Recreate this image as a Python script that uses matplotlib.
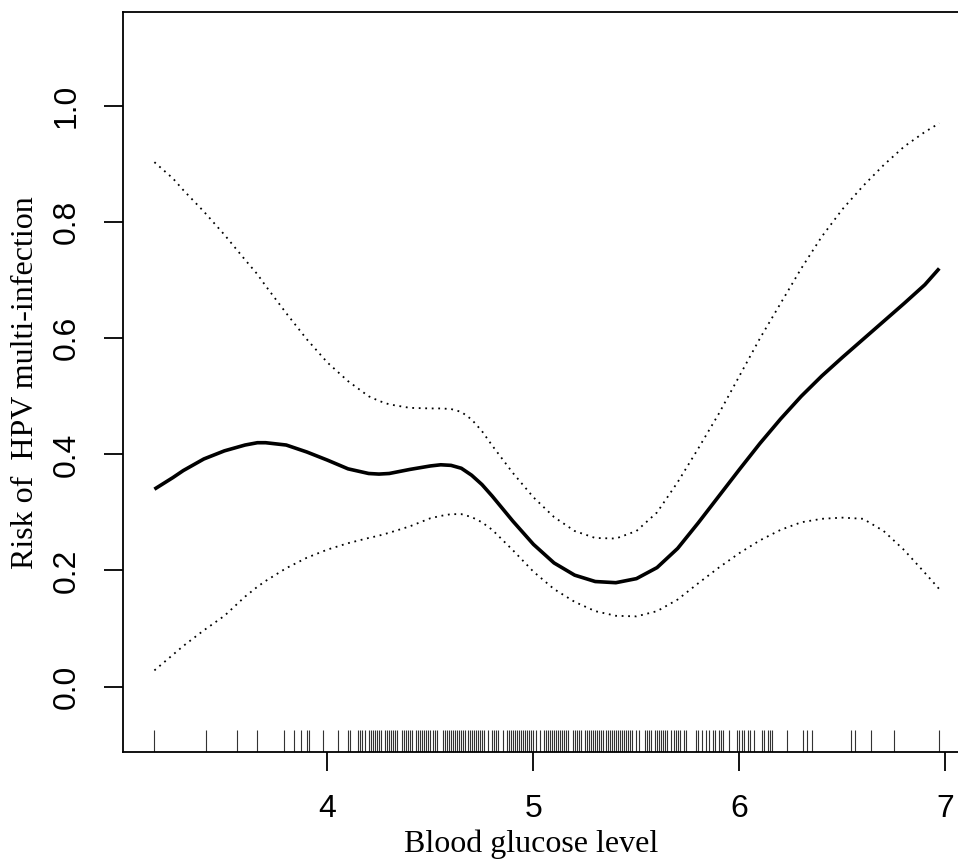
import numpy as np
import matplotlib.pyplot as plt

# fitted curve and 95% band
glucose = [3.16, 3.25, 3.30, 3.40, 3.50, 3.60, 3.66, 3.70, 3.80, 3.90,
           4.00, 4.10, 4.20, 4.25, 4.30, 4.40, 4.50, 4.55, 4.60, 4.65,
           4.70, 4.75, 4.80, 4.90, 5.00, 5.10, 5.20, 5.30, 5.40, 5.50,
           5.60, 5.70, 5.80, 5.90, 6.00, 6.10, 6.20, 6.30, 6.40, 6.50,
           6.60, 6.70, 6.80, 6.90, 6.97]
risk = [0.340, 0.360, 0.372, 0.392, 0.406, 0.416, 0.420, 0.420, 0.416, 0.404,
        0.390, 0.375, 0.367, 0.366, 0.367, 0.374, 0.380, 0.382, 0.381, 0.376,
        0.364, 0.348, 0.328, 0.285, 0.245, 0.213, 0.192, 0.181, 0.179, 0.186,
        0.205, 0.238, 0.282, 0.328, 0.374, 0.419, 0.461, 0.500, 0.535, 0.567,
        0.598, 0.629, 0.660, 0.692, 0.720]
upper = [0.903, 0.875, 0.855, 0.818, 0.778, 0.735, 0.710, 0.690, 0.643, 0.598,
         0.558, 0.526, 0.500, 0.492, 0.486, 0.480, 0.479, 0.479, 0.478, 0.473,
         0.460, 0.440, 0.415, 0.368, 0.326, 0.292, 0.268, 0.256, 0.255, 0.268,
         0.300, 0.352, 0.410, 0.470, 0.535, 0.600, 0.660, 0.720, 0.775, 0.822,
         0.862, 0.898, 0.930, 0.955, 0.970]
lower = [0.028, 0.055, 0.070, 0.097, 0.122, 0.155, 0.172, 0.182, 0.204, 0.222,
         0.236, 0.247, 0.256, 0.260, 0.265, 0.276, 0.290, 0.294, 0.297, 0.297,
         0.292, 0.283, 0.270, 0.235, 0.198, 0.168, 0.146, 0.130, 0.122, 0.121,
         0.130, 0.150, 0.178, 0.205, 0.230, 0.252, 0.270, 0.283, 0.289, 0.291,
         0.289, 0.268, 0.235, 0.196, 0.168]

# observed glucose values (rug)
rug = [3.16, 3.41, 3.56, 3.66, 3.79, 3.84, 3.87, 3.90, 3.91, 3.98, 4.05, 4.10, 4.11,
       4.15, 4.16, 4.17, 4.18, 4.20, 4.21, 4.22, 4.23, 4.24, 4.25, 4.26, 4.28, 4.29,
       4.30, 4.31, 4.32, 4.33, 4.34, 4.36, 4.37, 4.38, 4.39, 4.40, 4.41, 4.43, 4.44,
       4.45, 4.46, 4.47, 4.48, 4.49, 4.50, 4.51, 4.52, 4.53, 4.56, 4.57, 4.58, 4.59,
       4.60, 4.61, 4.62, 4.63, 4.64, 4.65, 4.66, 4.67, 4.68, 4.69, 4.70, 4.71, 4.72,
       4.73, 4.74, 4.75, 4.76, 4.78, 4.80, 4.81, 4.82, 4.83, 4.85, 4.87, 4.88, 4.89,
       4.90, 4.91, 4.92, 4.93, 4.94, 4.95, 4.96, 4.97, 4.98, 4.99, 5.00, 5.01, 5.03,
       5.05, 5.06, 5.07, 5.08, 5.09, 5.10, 5.11, 5.12, 5.13, 5.14, 5.15, 5.16, 5.17,
       5.19, 5.20, 5.21, 5.22, 5.23, 5.25, 5.26, 5.27, 5.28, 5.29, 5.30, 5.31, 5.32,
       5.33, 5.34, 5.35, 5.36, 5.37, 5.38, 5.39, 5.40, 5.41, 5.42, 5.43, 5.44, 5.45,
       5.46, 5.47, 5.48, 5.50, 5.51, 5.54, 5.55, 5.56, 5.57, 5.59, 5.60, 5.61, 5.62,
       5.63, 5.64, 5.65, 5.67, 5.68, 5.69, 5.70, 5.71, 5.73, 5.74, 5.79, 5.80, 5.82,
       5.84, 5.85, 5.87, 5.88, 5.90, 5.91, 5.92, 5.95, 5.99, 6.00, 6.01, 6.02, 6.04,
       6.05, 6.07, 6.11, 6.12, 6.14, 6.15, 6.16, 6.23, 6.31, 6.33, 6.35, 6.54, 6.56,
       6.64, 6.75, 6.97]

xticks = [4, 5, 6, 7]
yticks = [0.0, 0.2, 0.4, 0.6, 0.8, 1.0]

fig = plt.figure(figsize=(9.58, 8.67), dpi=100)
ax = fig.add_axes([0.1287, 0.1323, 0.884, 0.8535])

dots = (0, (1, 2.6))
ax.plot(glucose, risk, color="black", lw=2.6, solid_capstyle="butt")
ax.plot(glucose, upper, color="black", lw=1.3, linestyle=dots)
ax.plot(glucose, lower, color="black", lw=1.3, linestyle=dots)
ax.vlines(rug, 0, 0.03, transform=ax.get_xaxis_transform(),
          color="#333333", lw=0.8)

ax.set_xlim(3.009, 7.12)
ax.set_ylim(-0.113, 1.161)

ax.set_xticks(xticks)
ax.set_xticklabels([str(t) for t in xticks], fontfamily="Liberation Sans", fontsize=23)
ax.set_yticks(yticks)
ax.set_yticklabels(["{:.1f}".format(t) for t in yticks], fontfamily="Liberation Sans",
                   fontsize=23, rotation=90, va="center")
ax.tick_params(direction="out", length=13.5, width=1.3, pad=16.5, colors="black")

for s in ax.spines.values():
    s.set_linewidth(1.3)

ax.set_xlabel("Blood glucose level", fontfamily="Liberation Serif", fontsize=23)
ax.set_ylabel("Risk of  HPV multi-infection", fontfamily="Liberation Serif", fontsize=23)
ax.xaxis.set_label_coords(0.4814, -0.104)
ax.yaxis.set_label_coords(-0.0984, 0.5)

fig.savefig("out.png", dpi=100)
